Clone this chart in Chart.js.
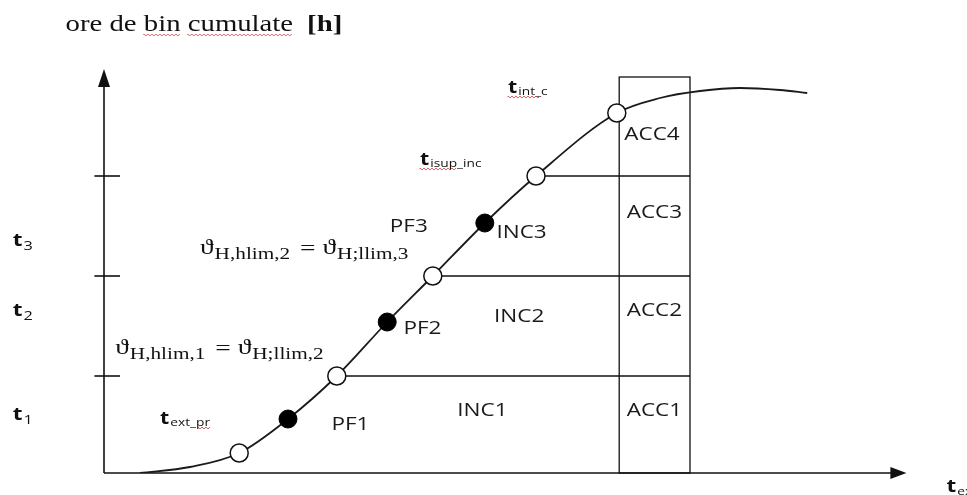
<!DOCTYPE html>
<html>
<head>
<meta charset="utf-8">
<script src="https://cdn.jsdelivr.net/npm/chart.js@4"></script>
<style>
html,body{margin:0;padding:0;background:#fff;}
#wrap{width:967px;height:495px;position:relative;}
</style>
</head>
<body>
<div id="wrap"><canvas id="c" width="967" height="495"></canvas></div>
<script>
// ---- data (schematic units: x = t_ext, y = cumulated bin hours) ----
const curveX = [4.5, 10.75, 16.9, 23.0, 29.1, 35.4, 41.1, 47.6, 54.0, 64.1, 69.5, 74.5, 79.5, 84.5, 87.9];
const curveY = [0, 1.5, 5.0, 13.5, 24.25, 37.75, 49.25, 62.5, 74.25, 90.0, 93.75, 95.5, 96.25, 95.75, 95.0];
const openX = [16.9, 29.1, 41.1, 54.0, 64.1];
const openY = [5.0, 24.25, 49.25, 74.25, 90.0];
const filledX = [23.0, 35.4, 47.6];
const filledY = [13.5, 37.75, 62.5];
const levels = [24.25, 49.25, 74.25];
const levelStartX = [29.1, 41.1, 54.0];
const levelNames = ['1', '2', '3'];
const boxLeft = 64.4, boxRight = 73.25, boxTop = 99;
const incLabels = ['INC1', 'INC2', 'INC3'];
const accLabels = ['ACC1', 'ACC2', 'ACC3', 'ACC4'];
const pfLabels = ['PF1', 'PF2', 'PF3'];
const titleText = 'ore de bin cumulate';
const titleUnit = '[h]';

// ---- label placement (data units) ----
const incPos = [[47.3, 15.5], [51.9, 39.0], [52.2, 60.0]];
const accPos = [[68.8, 15.5], [68.8, 40.5], [68.8, 65.0], [68.5, 84.5]];
const pfPos = [[30.8, 12.0], [39.8, 36.0], [38.1, 61.5]];
const tLevelPos = [[-11.4, 14.5], [-11.4, 40.5], [-11.4, 58.0]];

const SX = 1.25; // horizontal stretch of the reference lettering
const sans = '"Open Sans", "Noto Sans", sans-serif';
const serif = '"Liberation Serif", "DejaVu Serif", serif';

function txt(ctx, s, x, y, align) {
  const w = ctx.measureText(s).width * SX;
  let x0 = x;
  if (align === 'center') x0 = x - w / 2;
  ctx.save();
  ctx.translate(x0, y);
  ctx.scale(SX, 1);
  ctx.textAlign = 'left';
  ctx.fillText(s, 0, 0);
  ctx.restore();
  return x0 + w;
}

function subText(ctx, x, y, main, sub, mainFont, subFont, dy, color) {
  ctx.fillStyle = color || '#111';
  ctx.textBaseline = 'alphabetic';
  ctx.font = mainFont;
  const e = txt(ctx, main, x, y, 'left');
  ctx.font = subFont;
  return txt(ctx, sub, e + 1, y + dy, 'left');
}

function squiggle(ctx, x1, x2, y) {
  ctx.save();
  ctx.strokeStyle = '#d04040';
  ctx.lineWidth = 0.8;
  ctx.beginPath();
  let up = true;
  ctx.moveTo(x1, y);
  for (let x = x1; x <= x2; x += 2) { ctx.lineTo(x, up ? y - 1 : y + 1); up = !up; }
  ctx.stroke();
  ctx.restore();
}

const schematic = {
  id: 'schematic',
  beforeDatasetsDraw(chart) {
    const ctx = chart.ctx;
    const xs = chart.scales.x, ys = chart.scales.y;
    const X = v => xs.getPixelForValue(v), Y = v => ys.getPixelForValue(v);
    ctx.save();
    ctx.strokeStyle = '#111';
    ctx.fillStyle = '#111';
    ctx.lineWidth = 1.6;
    // y axis
    ctx.beginPath(); ctx.moveTo(X(0), Y(0)); ctx.lineTo(X(0), Y(97.5)); ctx.stroke();
    ctx.beginPath(); ctx.moveTo(X(0), Y(101)); ctx.lineTo(X(0) - 6, Y(96.5)); ctx.lineTo(X(0) + 6, Y(96.5)); ctx.closePath(); ctx.fill();
    // x axis
    ctx.beginPath(); ctx.moveTo(X(0), Y(0)); ctx.lineTo(X(99), Y(0)); ctx.stroke();
    ctx.beginPath(); ctx.moveTo(X(100.3), Y(0)); ctx.lineTo(X(98.3), Y(0) - 6); ctx.lineTo(X(98.3), Y(0) + 6); ctx.closePath(); ctx.fill();
    // level ticks and horizontals
    levels.forEach((lv, i) => {
      ctx.beginPath(); ctx.moveTo(X(-1.2), Y(lv)); ctx.lineTo(X(2.0), Y(lv)); ctx.stroke();
      ctx.beginPath(); ctx.moveTo(X(levelStartX[i]), Y(lv)); ctx.lineTo(X(boxRight), Y(lv)); ctx.stroke();
    });
    // box
    ctx.lineWidth = 1.3;
    ctx.strokeRect(X(boxLeft), Y(boxTop), X(boxRight) - X(boxLeft), Y(0) - Y(boxTop));
    ctx.restore();
  },
  afterDatasetsDraw(chart) {
    const ctx = chart.ctx;
    const xs = chart.scales.x, ys = chart.scales.y;
    const X = v => xs.getPixelForValue(v), Y = v => ys.getPixelForValue(v);
    ctx.save();
    ctx.fillStyle = '#1a1a1a';
    ctx.textBaseline = 'middle';
    ctx.font = '18px ' + sans;
    incLabels.forEach((t, i) => txt(ctx, t, X(incPos[i][0]), Y(incPos[i][1]), 'center'));
    accLabels.forEach((t, i) => txt(ctx, t, X(accPos[i][0]), Y(accPos[i][1]), 'center'));
    pfLabels.forEach((t, i) => txt(ctx, t, X(pfPos[i][0]), Y(pfPos[i][1]), 'center'));

    // t1 t2 t3
    levelNames.forEach((n, i) => {
      subText(ctx, X(tLevelPos[i][0]), Y(tLevelPos[i][1]) + 5, 't', n,
        'bold 18px ' + sans, '13px ' + sans, 4, '#111');
    });

    // t_ext_pr, t_isup_inc, t_int_c, t_ext
    let e;
    e = subText(ctx, X(7.0), Y(12.5) + 1, 't', 'ext_pr', 'bold 17px ' + sans, '11px ' + sans, 2);
    squiggle(ctx, X(7.0) + 38, e, Y(12.5) + 5);
    e = subText(ctx, X(39.5), Y(77.5) + 2, 't', 'isup_inc', 'bold 17px ' + sans, '11px ' + sans, 2);
    squiggle(ctx, X(39.5), X(39.5) + 36, Y(77.5) + 6);
    e = subText(ctx, X(50.5), Y(95.5) + 2, 't', 'int_c', 'bold 17px ' + sans, '11px ' + sans, 2);
    squiggle(ctx, X(50.5), X(50.5) + 33, Y(95.5) + 6);
    subText(ctx, X(105.3), Y(-3.3) + 6, 't', 'ext', 'bold 18px ' + sans, '11px ' + sans, 3);

    // theta labels
    function thetaLabel(x, y, s1, s2) {
      let p = subText(ctx, x, y, '\u03D1', s1, '22px ' + serif, '17px ' + serif, 5, '#111');
      ctx.font = '22px ' + serif;
      p = txt(ctx, ' = ', p + 3, y + 1, 'left');
      subText(ctx, p, y, '\u03D1', s2, '22px ' + serif, '17px ' + serif, 5, '#111');
    }
    thetaLabel(X(12.0), Y(54.8), 'H,hlim,2', 'H;llim,3');
    thetaLabel(X(1.4), Y(29.8), 'H,hlim,1', 'H;llim,2');

    // title
    ctx.fillStyle = '#111';
    ctx.textBaseline = 'alphabetic';
    ctx.font = '23px ' + serif;
    const tx = X(-4.8), ty = Y(110.5);
    const tw = ctx.measureText(titleText).width * SX;
    const w1 = ctx.measureText('ore de ').width * SX;
    const w2 = ctx.measureText('ore de bin').width * SX;
    const w3 = ctx.measureText('ore de bin ').width * SX;
    txt(ctx, titleText, tx, ty, 'left');
    squiggle(ctx, tx + w1, tx + w2, ty + 4);
    squiggle(ctx, tx + w3, tx + tw, ty + 4);
    ctx.font = 'bold 23px ' + serif;
    txt(ctx, titleUnit, tx + tw + 14, ty, 'left');
    ctx.restore();
  }
};

const toPts = (xa, ya) => xa.map((x, i) => ({ x: x, y: ya[i] }));

new Chart(document.getElementById('c'), {
  type: 'scatter',
  data: {
    datasets: [
      { label: 'open', data: toPts(openX, openY), order: 0, pointRadius: 9, pointHoverRadius: 9,
        pointBackgroundColor: '#ffffff', pointBorderColor: '#111', pointBorderWidth: 1.5, showLine: false },
      { label: 'filled', data: toPts(filledX, filledY), order: 0, pointRadius: 9, pointHoverRadius: 9,
        pointBackgroundColor: '#000', pointBorderColor: '#000', pointBorderWidth: 1, showLine: false },
      { label: 'curve', data: toPts(curveX, curveY), order: 1, showLine: true, pointRadius: 0,
        borderColor: '#1a1a1a', borderWidth: 1.8, cubicInterpolationMode: 'monotone', fill: false }
    ]
  },
  options: {
    responsive: false,
    animation: false,
    events: [],
    layout: { padding: { left: 104, right: 63, top: 73, bottom: 22 } },
    plugins: { legend: { display: false }, tooltip: { enabled: false }, title: { display: false } },
    scales: {
      x: { type: 'linear', min: 0, max: 100, display: false },
      y: { type: 'linear', min: 0, max: 100, display: false }
    }
  },
  plugins: [schematic]
});
</script>
</body>
</html>
